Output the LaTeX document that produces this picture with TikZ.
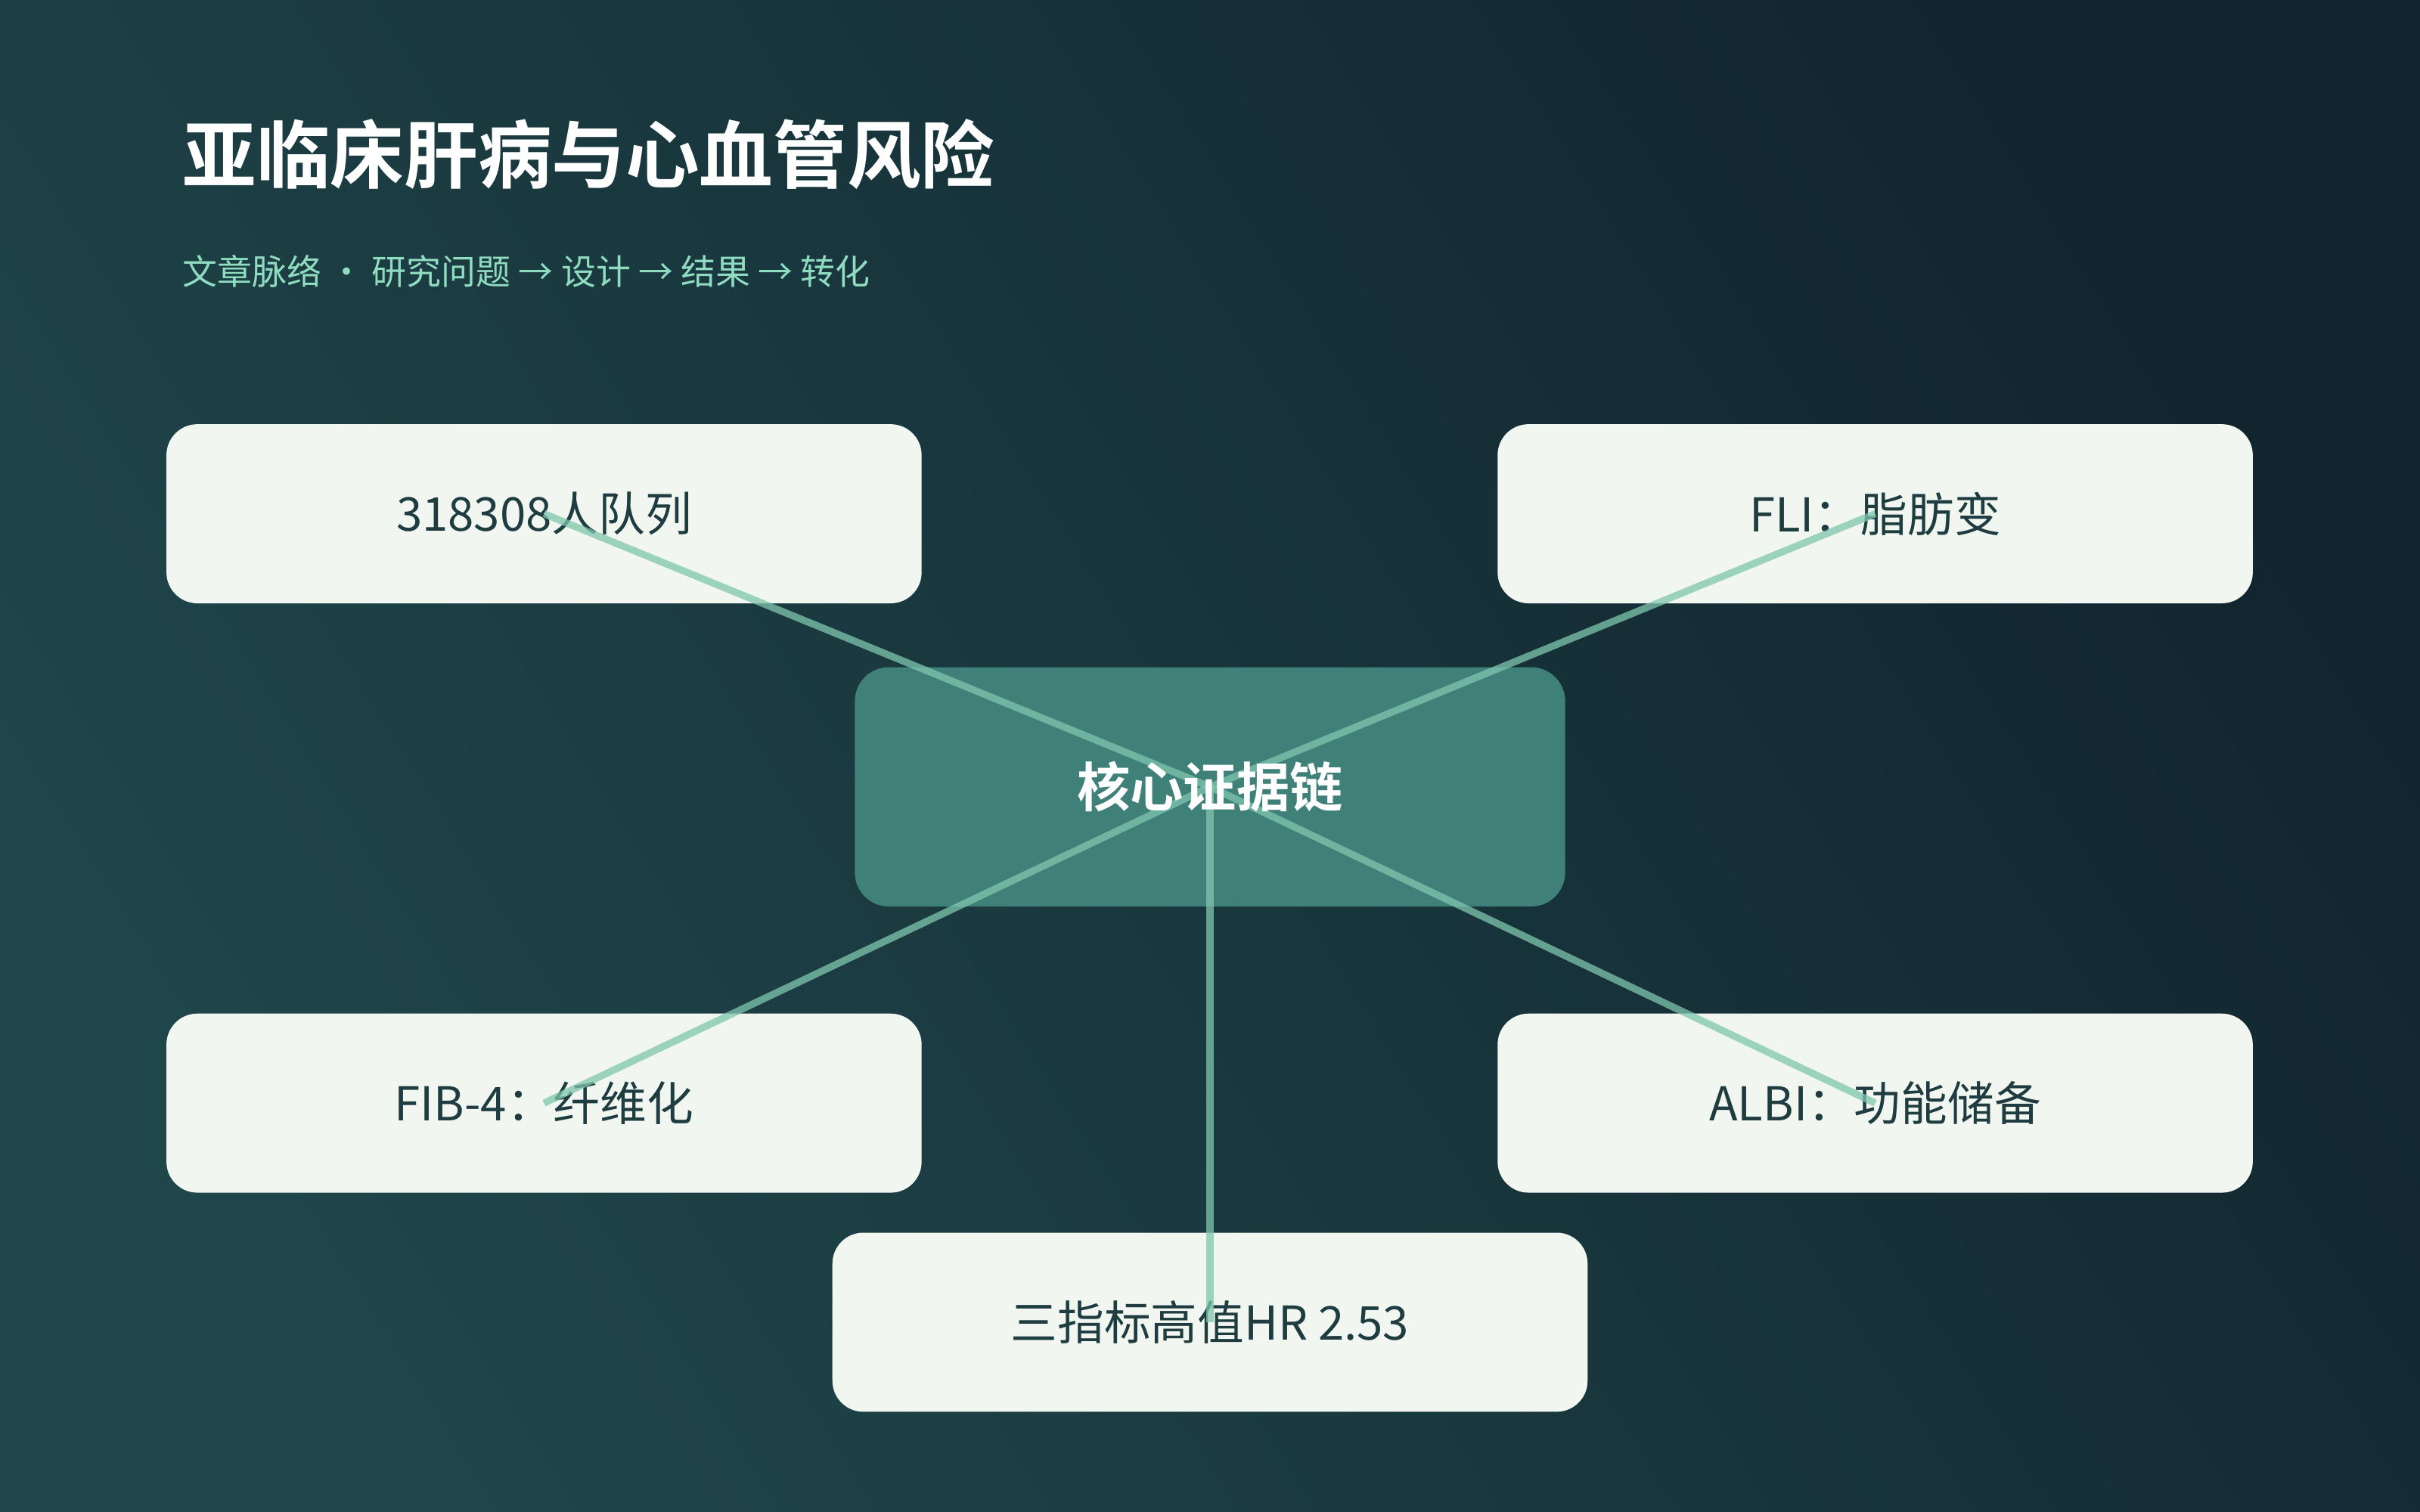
\documentclass[tikz,border=0pt]{standalone}
\usepackage{fontspec}
\setmainfont{Noto Sans CJK SC}
\newfontfamily\cjkb{Noto Sans CJK SC Bold}
\definecolor{boxc}{HTML}{F1F6F0}
\definecolor{txt}{HTML}{1F3D40}
\definecolor{linkc}{HTML}{7FC6AE}
\definecolor{cen}{HTML}{3F8079}
\definecolor{sub}{HTML}{8FDCC0}
\definecolor{bgA}{RGB}{18,37,47}
\definecolor{bgD}{RGB}{31,70,74}
\begin{document}
\begin{tikzpicture}[x=0.01cm,y=-0.01cm,
  box/.style={rounded corners=0.2cm,fill=boxc,draw=none,minimum width=4.89cm,minimum height=1.16cm,text=txt,font=\fontsize{8.6pt}{10pt}\selectfont},
  link/.style={draw=linkc,line width=1.3pt,opacity=0.75}]
\useasboundingbox (0,0) rectangle (1568,980);
\fill[bgA] (0,0) rectangle (1568,980);
\shade[left color=bgA,right color=bgD,shading angle=-58] (0,0) rectangle (1568,980);
\node[anchor=west,text=white,font=\cjkb\fontsize{13.6pt}{16pt}\selectfont] (title) at (106,100) {亚临床肝病与心血管风险};
\node[anchor=west,text=sub,font=\fontsize{6.4pt}{8pt}\selectfont] (subtitle) at (106,176) {文章脉络 · 研究问题 → 设计 → 结果 → 转化};
\node[rounded corners=0.22cm,fill=cen,minimum width=4.6cm,minimum height=1.55cm] (c) at (784,510) {};
\node[box] (a) at (352.5,333) {318308人队列};
\node[box] (b) at (1215,333) {FLI：脂肪变};
\node[box] (d) at (352.5,715) {FIB-4：纤维化};
\node[box] (e) at (1215,715) {ALBI：功能储备};
\node[box] (f) at (784,857) {三指标高值HR 2.53};
\foreach \n in {a,b,d,e,f} \draw[link] (c.center) -- (\n.center);
\node[text=white,font=\cjkb\fontsize{9.8pt}{12pt}\selectfont] (ct) at (c.center) {核心证据链};
\end{tikzpicture}
\end{document}
